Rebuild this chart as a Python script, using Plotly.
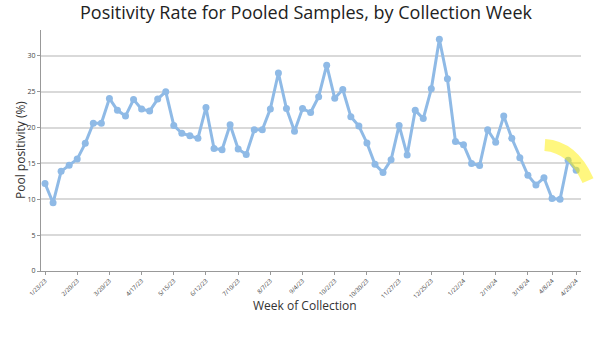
import plotly.graph_objects as go

weeks = list(range(67))
positivity = [12.2, 9.5, 13.9, 14.75, 15.6, 17.8, 20.6, 20.6, 24.06, 22.4,
              21.6, 23.9, 22.57, 22.3, 23.97, 25.0, 20.3, 19.2, 18.85, 18.5,
              22.8, 17.08, 16.9, 20.4, 17.0, 16.25, 19.68, 19.7, 22.6, 27.6,
              22.65, 19.5, 22.65, 22.1, 24.3, 28.7, 24.07, 25.3, 21.5, 20.2,
              17.85, 14.87, 13.75, 15.5, 20.3, 16.17, 22.4, 21.25, 25.4, 32.3,
              26.8, 18.05, 17.6, 15.0, 14.7, 19.7, 17.95, 21.6, 18.5, 15.8,
              13.35, 12.0, 13.0, 10.1, 10.0, 15.45, 14.05]
tick_idx = [0, 4, 8, 12, 16, 20, 24, 28, 32, 36, 40, 44, 48, 52, 56, 60, 63, 66]
tick_labels = ["1/23/23", "2/20/23", "3/20/23", "4/17/23", "5/15/23", "6/12/23",
               "7/10/23", "8/7/23", "9/4/23", "10/2/23", "10/30/23", "11/27/23",
               "12/25/23", "1/22/24", "2/19/24", "3/18/24", "4/8/24", "4/29/24"]

fig = go.Figure()
fig.add_trace(go.Scatter(
    x=weeks, y=positivity, mode="lines+markers",
    line=dict(color="rgb(143,186,230)", width=3),
    marker=dict(color="rgb(143,186,230)", size=7),
    showlegend=False,
))

# yellow highlighter stroke (decoration)
fig.add_shape(type="path", xref="paper", yref="paper",
              path="M 0.933,0.523 Q 0.985,0.515 1.013,0.375",
              line=dict(color="rgba(255,240,0,0.5)", width=12))

# axis titles
fig.add_annotation(text="Week of Collection", xref="paper", yref="paper",
                   x=0.489, y=-0.145, xanchor="center", yanchor="middle",
                   showarrow=False, font=dict(size=12, color="#333"))
fig.add_annotation(text="Pool positivity (%)", xref="paper", yref="paper",
                   x=-0.039, y=0.502, xanchor="center", yanchor="middle",
                   textangle=-90, showarrow=False, font=dict(size=12, color="#333"))

fig.update_layout(
    width=600, height=356,
    margin=dict(l=41, r=19, t=30, b=85),
    paper_bgcolor="white", plot_bgcolor="white",
    font=dict(family="Open Sans, sans-serif", color="#444"),
    title=dict(text="Positivity Rate for Pooled Samples, by Collection Week",
               x=0.51, xanchor="center", y=0.963, yanchor="middle",
               font=dict(size=18, color="#222")),
    xaxis=dict(
        range=[-0.5, 66.6], tickmode="array", tickvals=tick_idx, ticktext=tick_labels,
        tickangle=-45, tickfont=dict(size=6, color="#444"), automargin=False,
        showgrid=False, zeroline=False, showline=True, linecolor="#999", linewidth=1,
        ticks="outside", ticklen=3, tickcolor="#999",
    ),
    yaxis=dict(
        range=[0, 33.6], tickvals=[0, 5, 10, 15, 20, 25, 30],
        tickfont=dict(size=7, color="#444"), automargin=False,
        showgrid=True, gridcolor="#d9d9d9", gridwidth=1.5, zeroline=False,
        showline=True, linecolor="#999", linewidth=1,
        ticks="outside", ticklen=3, tickcolor="#999",
    ),
)

fig.write_html("out.html", config={"displayModeBar": False},
               post_script="document.body.style.margin='0';")
